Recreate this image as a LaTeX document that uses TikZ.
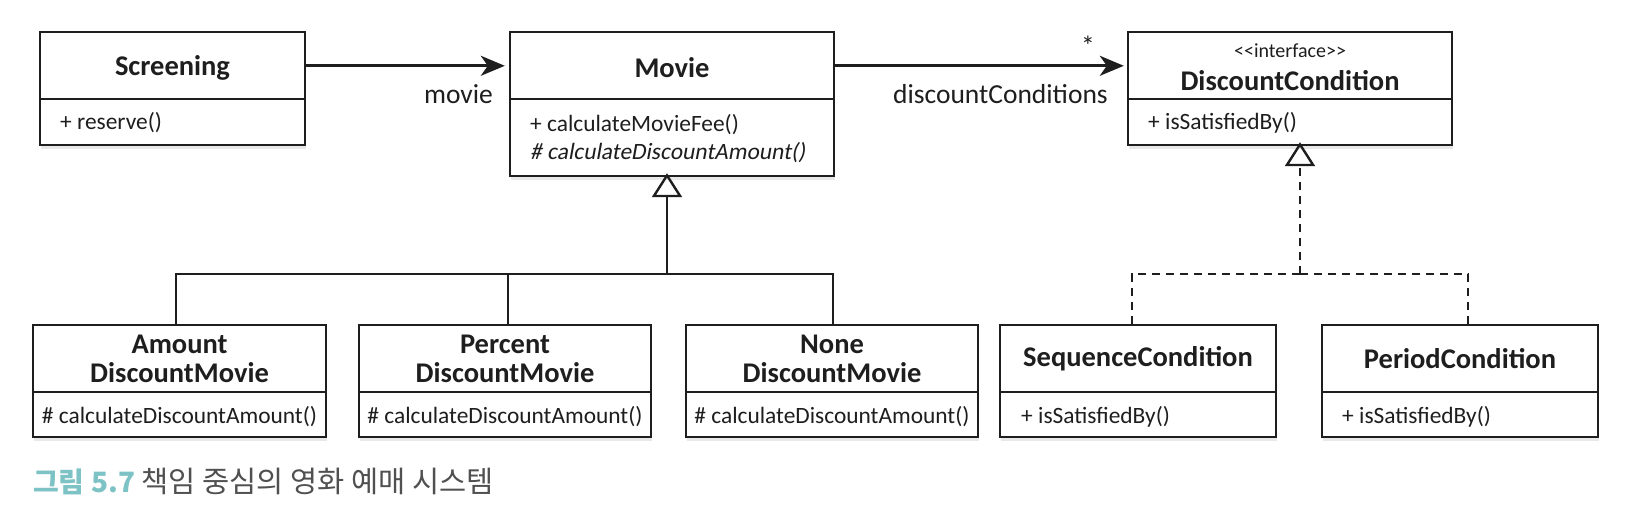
\documentclass[tikz,border=0pt]{standalone}
\usepackage{fontspec}
\setmainfont{Carlito}
\newfontfamily\krfont{Noto Sans CJK KR}
\newfontfamily\slfont{Carlito}[FakeSlant=0.18]
\usetikzlibrary{arrows.meta,shadows,calc}
\definecolor{ink}{HTML}{1E1E1E}
\definecolor{capteal}{HTML}{7DC2C5}
\definecolor{capgray}{HTML}{505050}
\begin{document}
\begin{tikzpicture}[x=1pt,y=-1pt,
  cls/.style={draw=ink, line width=2.4pt, fill=white, inner sep=0pt,
    drop shadow={shadow xshift=1pt, shadow yshift=-4pt, opacity=0.18}},
  divline/.style={draw=ink, line width=2pt},
  cname/.style={font=\bfseries\fontsize{28.5}{29}\selectfont, text=ink, inner sep=0pt, align=center},
  meth/.style={font=\fontsize{23.4}{26}\selectfont, text=ink, inner sep=0pt},
  stereo/.style={font=\fontsize{20}{22}\selectfont, text=ink, inner sep=0pt},
  lbl/.style={font=\fontsize{27.5}{30}\selectfont, text=ink, inner sep=0pt},
  assoc/.style={draw=ink, line width=2.6pt, -{Stealth[length=24pt,width=20pt,inset=7pt]}},
  gen/.style={draw=ink, line width=2.4pt, -{Triangle[open,length=24pt,width=30pt]}},
  genline/.style={draw=ink, line width=2.4pt},
  real/.style={draw=ink, line width=2.4pt, dash pattern=on 8pt off 6pt, -{Triangle[open,length=24pt,width=30pt]}},
  realline/.style={draw=ink, line width=2.4pt, dash pattern=on 8pt off 6pt},
]
\useasboundingbox (0,0) rectangle (1630,516);
\fill[white] (0,0) rectangle (1630,516);

% top row
\node[cls, minimum width=265pt, minimum height=113pt] (scr) at (172.5,88.5) {};
\node[cls, minimum width=324pt, minimum height=144pt] (mov) at (672,104) {};
\node[cls, minimum width=324pt, minimum height=113pt] (dc) at (1290,88.5) {};
\draw[divline] (scr.west |- 0,99) -- (scr.east |- 0,99);
\draw[divline] (mov.west |- 0,99) -- (mov.east |- 0,99);
\draw[divline] (dc.west |- 0,99) -- (dc.east |- 0,99);

\node[cname] (scrN) at (172.5,68) {Screening};
\node[meth, anchor=west] (scrM) at (60,123) {+ reserve()};

\node[cname] (movN) at (672,68) {Movie};
\node[meth, anchor=west] (movM1) at (530,125) {+ calculateMovieFee()};
\node[meth, anchor=west] (movM2) at (530,153) {\slfont\# calculateDiscountAmount()};

\node[stereo] (dcS) at (1290,51) {<{}<interface>{}>};
\node[cname] (dcN) at (1290,81) {DiscountCondition};
\node[meth, anchor=west] (dcM) at (1148,123) {+ isSatisfiedBy()};

% bottom row
\node[cls, minimum width=293pt, minimum height=112pt] (amt) at (179.5,381) {};
\node[cls, minimum width=292pt, minimum height=112pt] (pct) at (505,381) {};
\node[cls, minimum width=292pt, minimum height=112pt] (non) at (832,381) {};
\node[cls, minimum width=276pt, minimum height=112pt] (seq) at (1138,381) {};
\node[cls, minimum width=276pt, minimum height=112pt] (per) at (1460,381) {};
\foreach \n in {amt,pct,non,seq,per}
  \draw[divline] (\n.west |- 0,392) -- (\n.east |- 0,392);

\node[cname] (amtN) at (179.5,358.5) {Amount\\DiscountMovie};
\node[cname] (pctN) at (505,358.5) {Percent\\DiscountMovie};
\node[cname] (nonN) at (832,358.5) {None\\DiscountMovie};
\node[cname] (seqN) at (1138,359) {SequenceCondition};
\node[cname] (perN) at (1460,359) {PeriodCondition};

\node[meth] (amtM) at (179.5,417) {\# calculateDiscountAmount()};
\node[meth] (pctM) at (505,417) {\# calculateDiscountAmount()};
\node[meth] (nonM) at (832,417) {\# calculateDiscountAmount()};
\node[meth, anchor=west] (seqM) at (1021,417) {+ isSatisfiedBy()};
\node[meth, anchor=west] (perM) at (1342,417) {+ isSatisfiedBy()};

% associations
\draw[assoc] ([yshift=-35pt]scr.north east) -- ([yshift=-35pt,xshift=-4pt]mov.north west);
\node[lbl, anchor=east] (lmovie) at (493,94) {movie};
\draw[assoc] ([yshift=-35pt]mov.north east) -- ([yshift=-35pt,xshift=-3pt]dc.north west);
\node[lbl, anchor=east] (ldc) at (1108,94) {discountConditions};
\node[lbl] (lstar) at (1088,46) {*};

% generalization
\coordinate (hub) at (667,274);
\draw[gen] (hub) -- ([xshift=-5pt,yshift=4pt]mov.south);
\draw[genline] ([xshift=-3.5pt]amt.north) |- (hub);
\draw[genline] ([xshift=3pt]pct.north) |- (hub);
\draw[genline] ([xshift=1pt]non.north) |- (hub);

% realization
\coordinate (hub2) at (1300,274);
\draw[real] (hub2) -- ([xshift=10pt,yshift=4pt]dc.south);
\draw[realline] ([xshift=-6pt]seq.north) |- (hub2);
\draw[realline] ([xshift=8pt]per.north) |- (hub2);

% caption
\node[anchor=west, inner sep=0pt, font=\krfont\fontsize{28}{32}\selectfont] (cap) at (33,482)
  {\textcolor{capteal}{\bfseries 그림 5.7} \textcolor{capgray}{\fontsize{29.5}{32}\selectfont 책임 중심의 영화 예매 시스템}};
\end{tikzpicture}
\end{document}
